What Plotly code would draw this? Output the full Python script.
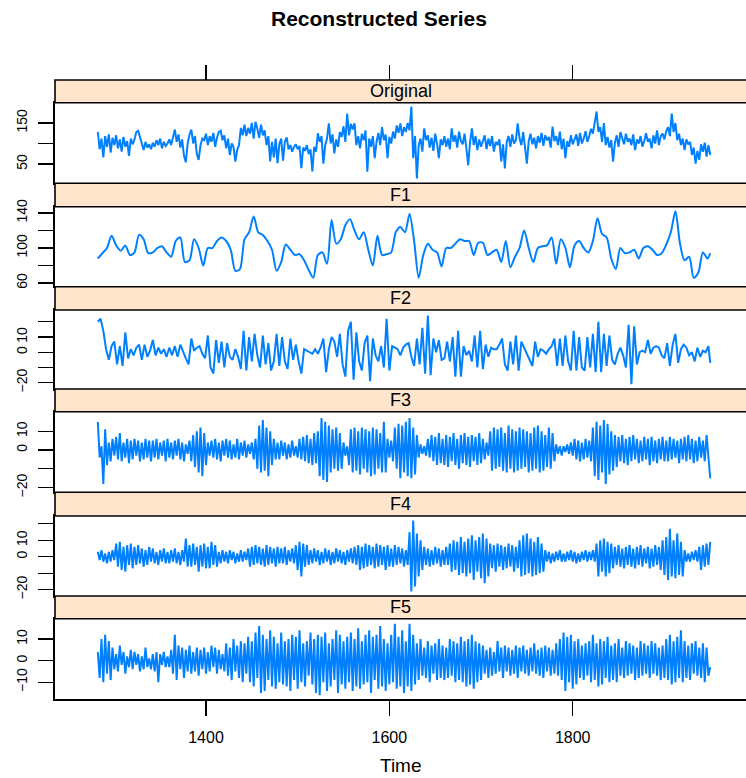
import numpy as np
import plotly.graph_objects as go

# ---------------- data ----------------
panel_names = ["Original", "F1", "F2", "F3", "F4", "F5"]

original = [
    128, 86, 112, 66, 118, 92, 122, 78, 114, 96,
    120, 88, 110, 80, 116, 92, 106, 70, 112, 98,
    110, 128, 131, 115, 100, 84, 104, 90, 98, 86,
    102, 92, 108, 96, 112, 88, 104, 94, 100, 110,
    96, 118, 134, 104, 122, 90, 110, 70, 54, 100,
    122, 134, 100, 118, 74, 60, 96, 112, 108, 124,
    96, 118, 104, 126, 92, 114, 128, 131, 108, 120,
    88, 112, 72, 100, 92, 56, 84, 96, 138, 120,
    146, 118, 138, 124, 150, 112, 153, 136, 114, 146,
    120, 132, 96, 118, 56, 104, 66, 112, 52, 98,
    112, 58, 104, 115, 86, 96, 80, 92, 98, 86,
    94, 40, 90, 82, 96, 74, 86, 32, 92, 80,
    125, 104, 118, 51, 96, 112, 149, 100, 122, 76,
    110, 92, 128, 116, 142, 104, 173, 120, 148, 134,
    149, 96, 118, 88, 124, 108, 132, 31, 112, 92,
    118, 64, 104, 126, 96, 140, 108, 122, 64, 116,
    100, 129, 112, 144, 126, 149, 118, 140, 128, 150,
    132, 190, 64, 118, 15, 96, 112, 80, 137, 108,
    120, 90, 114, 82, 124, 100, 64, 110, 96, 118,
    92, 112, 86, 137, 104, 120, 90, 129, 106, 98,
    124, 88, 47, 102, 137, 96, 118, 84, 110, 92,
    106, 120, 86, 112, 94, 118, 80, 104, 96, 110,
    56, 98, 39, 104, 118, 92, 122, 100, 108, 149,
    112, 96, 128, 84, 51, 106, 124, 98, 114, 88,
    118, 102, 126, 94, 120, 108, 116, 90, 141, 106,
    118, 96, 129, 86, 112, 64, 106, 92, 120, 98,
    108, 122, 94, 126, 100, 112, 130, 104, 118, 136,
    124, 150, 178, 128, 140, 104, 150, 96, 116, 90,
    108, 56, 102, 120, 92, 128, 110, 98, 124, 104,
    112, 96, 122, 84, 110, 100, 118, 92, 106, 125,
    104, 112, 88, 120, 100, 132, 96, 118, 124, 110,
    130, 140, 118, 173, 128, 150, 108, 124, 96, 112,
    84, 110, 98, 104, 72, 90, 51, 82, 60, 98,
    80, 102, 68, 96, 72,
]

f1 = [
    88, 94, 100, 114, 103, 97, 103, 92, 95, 115,
    110, 94, 95, 100, 102, 95, 90, 108, 112, 84,
    86, 110, 100, 80, 100, 100, 108, 112, 108, 98,
    74, 76, 110, 118, 136, 118, 115, 108, 98, 74,
    84, 104, 98, 92, 93, 86, 75, 66, 92, 95,
    82, 132, 105, 110, 126, 133, 120, 110, 118, 98,
    80, 114, 92, 93, 95, 118, 124, 118, 139, 108,
    66, 92, 105, 98, 95, 79, 100, 100, 105, 110,
    108, 108, 92, 106, 106, 92, 95, 98, 84, 108,
    78, 90, 100, 120, 100, 84, 100, 102, 103, 112,
    82, 110, 100, 78, 103, 108, 100, 95, 108, 134,
    116, 112, 88, 76, 100, 94, 95, 98, 88, 100,
    102, 98, 92, 94, 104, 118, 142, 105, 86, 90,
    66, 72, 95, 88, 94,
]

f2 = [
    20, 22, 14, 2, -5, 4, 7, -8, 4, -9,
    13, -4, 2, -2, 3, 5, -5, 5, -3, 1,
    8, -2, 3, -1, 2, -3, 3, -2, 4, -3,
    5, 0, -4, -8, 9, 1, 3, 4, -1, -4,
    11, -10, -14, 8, -7, 7, -10, 6, -3, -5,
    2, -3, -11, 14, -12, 10, -6, 12, -2, -10,
    11, -8, 6, -12, -6, 12, -9, 10, -6, -11,
    9, -5, 5, -6, -14, 2, 1, 0, -1, 2,
    -1, 3, 9, -13, 2, 10, 7, -3, 12, -8,
    -16, 14, 20, -18, 13, -6, -12, 6, 11, -19,
    9, -2, -6, 4, -10, 22, -12, 4, 3, 2,
    -2, 3, 5, 6, -3, -9, 9, -8, 16, -14,
    24, -15, 9, 0, 8, -5, -4, 7, -6, 10,
    -16, 14, -16, 4, -2, 1, -6, 11, -10, 14,
    -11, 5, -3, 3, 2, 2, 5, 9, -8, -12,
    7, -8, 11, -12, 7, 3, -1, -4, -9, 7,
    -3, 2, 1, -1, 2, 4, 9, -9, 9, -9,
    11, -6, -12, 14, -12, 10, -10, -12, 10, -10,
    12, -13, 20, -13, 12, -9, 11, -5, -8, -1,
    3, -2, -10, 18, -21, 17, -8, 0, 1, 0,
    8, -1, 3, 4, 3, -2, -4, 6, -9, 5,
    12, -7, 2, 5, 3, -2, 0, -6, 3, -3,
    1, 0, 4, -7,
]

f3 = [
    15, -4, 2, -18, 11, -8, 4, -6, 6, -3,
    7, -5, 9, -6, 4, -4, 6, -7, 5, -5,
    6, -3, 5, -6, 4, -5, 6, -4, 5, -6,
    5, -4, 6, -5, 4, -3, 5, -6, 6, -4,
    4, -5, 5, -3, 6, -5, 4, -6, 3, -2,
    5, -6, 8, -9, 10, -12, 12, -14, 9, -8,
    4, -3, 5, -4, 6, -5, 4, -6, 5, -3,
    6, -4, 5, -5, 3, -4, 6, -5, 4, -3,
    5, -4, 3, -2, 4, -5, 6, -10, 13, -12,
    16, -11, 12, -14, 10, -8, 6, -5, 4, -5,
    5, -3, 4, -5, 3, -4, 5, -3, 2, -4,
    6, -5, 7, -6, 8, -7, 6, -8, 9, -7,
    10, -14, 17, -16, 15, -17, 13, -12, 11, -10,
    12, -11, 9, -10, 4, -3, 2, -8, 11, -12,
    12, -11, 10, -13, 12, -10, 11, -12, 10, -14,
    12, -13, 11, -10, 9, -12, 15, -12, 6, -4,
    5, -6, 12, -10, 14, -15, 13, -12, 15, -14,
    17, -15, 12, -13, 8, -4, 3, -2, 2, -3,
    6, -4, 8, -6, 7, -8, 9, -7, 6, -8,
    8, -9, 7, -6, 9, -8, 6, -10, 8, -7,
    9, -8, 7, -9, 8, -6, 7, -8, 9, -7,
    6, -5, 4, -3, 10, -11, 12, -10, 11, -9,
    12, -11, 9, -12, 13, -10, 11, -12, 10, -11,
    12, -10, 11, -9, 10, -12, 9, -11, 12, -10,
    13, -12, 10, -11, 8, -9, 12, -10, 9, -6,
    3, -2, 2, -3, 2, -1, 3, -2, 4, -3,
    6, -5, 5, -6, 4, -5, 6, -4, 5, -6,
    12, -14, 15, -16, 13, -12, 16, -18, 14, -13,
    10, -11, 8, -9, 7, -6, 8, -7, 6, -8,
    7, -6, 8, -5, 6, -7, 5, -6, 7, -5,
    6, -8, 7, -6, 5, -7, 6, -5, 7, -6,
    5, -6, 7, -5, 6, -4, 5, -7, 6, -5,
    7, -6, 8, -5, 6, -7, 5, -6, 7, -4,
    5, -6, 8, -3, -15,
]

f4 = [
    3, -2, 4, -3, 2, -4, 3, -3, 4, -2,
    8, -6, 9, -8, 6, -9, 7, -5, 8, -7,
    6, -5, 7, -4, 5, -6, 4, -5, 6, -3,
    5, -4, 3, -5, 4, -3, 5, -4, 3, -4,
    4, -3, 5, -4, 3, -5, 4, -3, 11, -6,
    7, -6, 8, -5, 6, -9, 7, -6, 8, -7,
    6, -7, 9, -5, 7, -6, 3, -4, 4, -3,
    3, -4, 4, -2, 3, -4, 2, -3, 4, -3,
    3, -2, 5, -6, 6, -5, 7, -4, 6, -5,
    5, -6, 7, -5, 6, -4, 5, -6, 6, -4,
    5, -4, 6, -5, 4, -3, 5, -4, 7, -8,
    9, -12, 8, -6, 7, -5, 4, -4, 5, -3,
    4, -5, 3, -4, 5, -3, 4, -5, 3, -4,
    5, -3, 4, -4, 3, -5, 4, -3, 5, -4,
    6, -5, 7, -8, 6, -7, 8, -6, 7, -5,
    6, -7, 8, -6, 7, -5, 6, -8, 7, -6,
    5, -6, 7, -5, 6, -4, 5, -6, 4, -5,
    15, -21, 22, -18, 14, -12, 10, -8, 6, -5,
    5, -6, 4, -5, 6, -4, 5, -6, 4, -5,
    6, -5, 8, -9, 10, -8, 9, -11, 12, -10,
    9, -12, 11, -10, 13, -14, 10, -9, 12, -13,
    14, -16, 11, -12, 8, -7, 7, -9, 8, -6,
    7, -8, 6, -7, 8, -6, 7, -9, 6, -7,
    10, -12, 13, -11, 14, -10, 11, -12, 9, -11,
    12, -10, 8, -9, 4, -3, 3, -4, 2, -3,
    3, -2, 4, -3, 2, -3, 3, -2, 4, -3,
    3, -4, 2, -3, 3, -2, 4, -3, 3, -2,
    4, -3, 8, -12, 10, -9, 11, -12, 9, -10,
    8, -7, 6, -5, 7, -6, 5, -7, 6, -5,
    7, -6, 5, -7, 6, -5, 7, -6, 5, -4,
    6, -7, 5, -6, 7, -5, 6, -8, 10, -11,
    12, -14, 17, -12, 10, -13, 14, -11, 9, -12,
    4, -3, 2, -3, 3, -2, 4, -3, 6, -8,
    7, -6, 8, -5, 9,
]

f5 = [
    4, -8, 10, -10, 12, -6, 9, -9, 6, -4,
    3, -5, 7, -2, 4, -6, 2, -3, 5, -4,
    4, -2, 3, -5, 2, -4, 6, -3, 1, -4,
    3, -5, 4, -10, 3, -2, 4, -3, 2, -3,
    5, -6, 12, -9, 7, -4, 6, -8, 5, -5,
    7, -6, 4, -5, 6, -7, 5, -4, 6, -6,
    4, -5, 7, -3, 6, -6, 5, -4, 3, -5,
    8, -7, 6, -9, 10, -5, 7, -8, 9, -10,
    8, -6, 11, -10, 9, -12, 13, -8, 16, -15,
    12, -14, 10, -9, 14, -12, 11, -13, 8, -10,
    13, -11, 9, -12, 10, -14, 12, -9, 11, -13,
    14, -10, 8, -12, 9, -7, 13, -11, 10, -15,
    12, -16, 11, -10, 13, -14, 8, -12, 10, -9,
    14, -15, 12, -11, 9, -13, 11, -10, 13, -14,
    10, -12, 15, -13, 9, -11, 12, -10, 14, -15,
    11, -9, 12, -13, 16, -12, 10, -14, 8, -11,
    12, -10, 17, -13, 11, -12, 14, -15, 9, -12,
    17, -14, 12, -11, 8, -9, 10, -7, 6, -8,
    9, -10, 7, -6, 8, -9, 10, -8, 7, -9,
    6, -8, 10, -7, 9, -10, 8, -9, 11, -10,
    9, -12, 10, -11, 12, -13, 9, -10, 8, -9,
    7, -6, 5, -8, 6, -7, 4, -6, 9, -5,
    6, -8, 7, -5, 6, -7, 5, -6, 7, -8,
    6, -5, 7, -6, 5, -7, 6, -5, 8, -6,
    5, -7, 6, -8, 7, -5, 6, -7, 5, -6,
    8, -7, 10, -9, 13, -14, 11, -10, 12, -13,
    9, -11, 10, -8, 7, -9, 8, -7, 9, -10,
    12, -9, 8, -12, 10, -11, 9, -8, 11, -10,
    7, -9, 8, -10, 10, -7, 6, -8, 9, -7,
    8, -6, 7, -9, 6, -8, 9, -7, 8, -6,
    7, -8, 9, -6, 8, -7, 6, -9, 7, -8,
    10, -9, 12, -11, 9, -10, 11, -8, 14, -10,
    9, -8, 7, -9, 8, -6, 9, -7, 6, -8,
    8, -10, 6, -7, -3,
]

start_year, end_year = 1282, 1950
x_ticks = [1400, 1600, 1800]

# y-axis ticks and labels per panel
y_tickvals = [
    [50, 100, 150, 200],
    [60, 80, 100, 120, 140],
    [-20, -10, 0, 10, 20],
    [-20, -10, 0, 10],
    [-20, -10, 0, 10, 20],
    [-10, 0, 10],
]
y_ticktext = [
    ["50", "", "150", ""],
    ["60", "", "100", "", "140"],
    ["\u221220", "", "0", "10", ""],
    ["\u221220", "", "0", "10"],
    ["\u221220", "", "0", "10", ""],
    ["\u221210", "0", "10"],
]

# ---------------- x positions ----------------
def even_years(vals):
    return np.linspace(start_year, end_year, len(vals))

def stepped_years(vals, step):
    return [start_year + step * i for i in range(len(vals) - 1)] + [end_year]

series = [
    (original, even_years(original), "linear"),
    (f1, stepped_years(f1, 5), "spline"),
    (f2, stepped_years(f2, 3), "linear"),
    (f3, even_years(f3), "linear"),
    (f4, even_years(f4), "linear"),
    (f5, even_years(f5), "linear"),
]

# ---------------- layout geometry ----------------
W, H = 746, 778
def py(p):
    return 1 - p / H

x_left = 55 / W
x_range = [1235.3, 1989.0]
panel_px = [(102.7, 183.3), (206.7, 286.7), (310, 389), (411.7, 492.3), (516, 596), (618.7, 699.3)]
strip_px = [(80, 102.7), (183.3, 206.7), (286.7, 310), (389, 411.7), (492.3, 516), (596, 618.7)]
y_ranges = [[2.9, 199.5], [55.8, 147.2], [-24.1, 27.7], [-22.5, 20.4], [-23.8, 24.7], [-17.9, 19.4]]

LINE = "#0080ff"
FONT = "Liberation Sans, Arial, Helvetica, sans-serif"

fig = go.Figure()
layout = dict(
    template="none",
    width=W, height=H, autosize=False,
    margin=dict(l=0, r=0, t=0, b=0, pad=0),
    paper_bgcolor="white", plot_bgcolor="white",
    showlegend=False,
    font=dict(family=FONT, color="black"),
)

shapes, annotations = [], []
for i, (vals, xs, shape) in enumerate(series):
    n = i + 1
    xa = "x" if n == 1 else f"x{n}"
    ya = "y" if n == 1 else f"y{n}"
    fig.add_trace(go.Scatter(
        x=xs, y=vals, mode="lines", xaxis=xa, yaxis=ya,
        line=dict(color=LINE, width=2.0, shape=shape, smoothing=0.8),
        hoverinfo="skip",
    ))
    top, bot = panel_px[i]
    is_bottom = (i == len(series) - 1)
    layout[f"xaxis{'' if n == 1 else n}"] = dict(
        domain=[x_left, 1.0], anchor=ya, range=x_range, automargin=False,
        showgrid=False, zeroline=False,
        showline=True, mirror=True, linecolor="black", linewidth=1.6,
        tickvals=x_ticks if is_bottom else [],
        ticks="outside" if is_bottom else "",
        ticklen=15, tickwidth=1.3, tickcolor="black",
        showticklabels=is_bottom,
        tickfont=dict(size=16, family=FONT),
        ticklabelstandoff=8,
    )
    layout[f"yaxis{'' if n == 1 else n}"] = dict(
        domain=[py(bot), py(top)], anchor=xa, range=y_ranges[i], automargin=False,
        showgrid=False, zeroline=False,
        showline=True, mirror=False, linecolor="black", linewidth=1.6,
        tickvals=y_tickvals[i], ticktext=y_ticktext[i],
        ticks="outside", ticklen=15, tickwidth=1.3, tickcolor="black",
        tickangle=-90, tickfont=dict(size=14, family=FONT),
        ticklabelstandoff=6,
    )
    s_top, s_bot = strip_px[i]
    shapes.append(dict(
        type="rect", xref="paper", yref="paper",
        x0=x_left, x1=1.01, y0=py(s_bot), y1=py(s_top),
        fillcolor="#ffe5cc", line=dict(color="black", width=1.6), layer="above",
    ))
    annotations.append(dict(
        text=panel_names[i], xref="paper", yref="paper",
        x=(x_left + 1.0) / 2, y=py((s_top + s_bot) / 2),
        showarrow=False, xanchor="center", yanchor="middle",
        font=dict(size=18, family=FONT, color="black"),
    ))

# top axis ticks above the first strip
fig.add_trace(go.Scatter(
    x=series[0][1][:1], y=original[:1], mode="markers", xaxis="x7", yaxis="y",
    marker=dict(opacity=0), hoverinfo="skip",
))
layout["xaxis7"] = dict(
    domain=[x_left, 1.0], overlaying="x", anchor="free", side="top",
    position=py(80), range=x_range, automargin=False,
    tickvals=x_ticks, ticks="outside", ticklen=15, tickwidth=1.3, tickcolor="black",
    showticklabels=False, showgrid=False, zeroline=False, showline=False,
)

annotations.append(dict(
    text="<b>Reconstructed Series</b>", xref="paper", yref="paper",
    x=379 / W, y=py(18), showarrow=False, xanchor="center", yanchor="middle",
    font=dict(size=21, family=FONT, color="black"),
))
annotations.append(dict(
    text="Time", xref="paper", yref="paper",
    x=(x_left + 1.0) / 2, y=py(765), showarrow=False, xanchor="center", yanchor="middle",
    font=dict(size=19, family=FONT, color="black"),
))

layout["shapes"] = shapes
layout["annotations"] = annotations
fig.update_layout(**layout)
fig.write_html(
    "out.html",
    config={"displayModeBar": False, "staticPlot": True},
    post_script="document.body.style.margin='0';document.body.style.padding='0';",
)
